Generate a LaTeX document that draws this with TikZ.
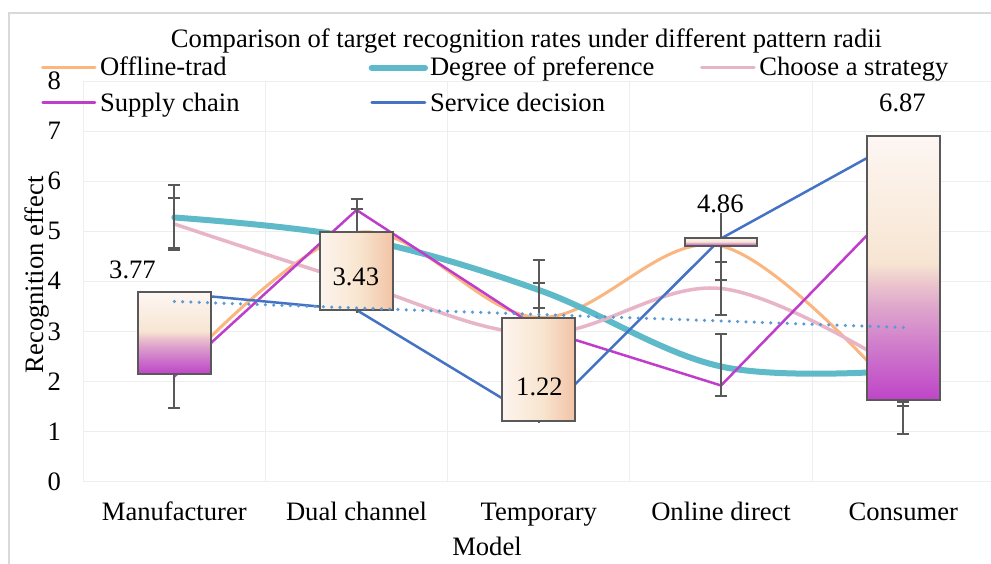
\documentclass[tikz,border=0pt]{standalone}
\usepackage{fontspec}
\setmainfont{Liberation Serif}
\definecolor{cOrange}{HTML}{FBB57F}
\definecolor{cTeal}{HTML}{5EBAC9}
\definecolor{cPink}{HTML}{E8B4C8}
\definecolor{cMag}{HTML}{BE3ECB}
\definecolor{cBlue}{HTML}{4472C4}
\definecolor{cTrend}{HTML}{5B9BD5}
\definecolor{cGray}{HTML}{595959}
\definecolor{cGrid}{HTML}{EEEEEE}
\definecolor{cFrame}{HTML}{D9D9D9}
\definecolor{ubA}{HTML}{BF45C8}
\definecolor{ubB}{HTML}{CB6FCB}
\definecolor{ubC}{HTML}{DDA2CC}
\definecolor{ubD}{HTML}{EBC3CD}
\definecolor{ubE}{HTML}{F7E5D2}
\definecolor{ubF}{HTML}{FAEDE1}
\definecolor{ubG}{HTML}{FDF6F3}
\definecolor{dbA}{HTML}{FDF4EE}
\definecolor{dbB}{HTML}{F8E5CF}
\definecolor{dbC}{HTML}{F2C3A6}
\pgfdeclareverticalshading{upbar}{100bp}{color(0bp)=(ubA); color(25bp)=(ubA); color(33bp)=(ubB); color(42bp)=(ubC); color(47bp)=(ubD); color(51bp)=(ubE); color(62bp)=(ubF); color(75bp)=(ubG); color(100bp)=(ubG)}
\pgfdeclarehorizontalshading{downbar}{100bp}{color(0bp)=(dbA); color(25bp)=(dbA); color(52bp)=(dbB); color(75bp)=(dbC); color(100bp)=(dbC)}
\begin{document}
\begin{tikzpicture}[x=1pt,y=-1pt,
  every node/.style={inner sep=0pt, outer sep=0pt, font=\fontsize{26.6pt}{32pt}\selectfont, text=black},
  gridline/.style={draw=cGrid, line width=1pt},
  sOrange/.style={draw=cOrange, line width=3pt, line cap=round},
  sTeal/.style={draw=cTeal, line width=6pt, line cap=round},
  sPink/.style={draw=cPink, line width=3.5pt, line cap=round},
  sMag/.style={draw=cMag, line width=2.5pt, line cap=round, line join=round},
  sBlue/.style={draw=cBlue, line width=2.5pt, line cap=round, line join=round},
  trenddot/.style={fill=cTrend},
  ebar/.style={draw=cGray, line width=2pt},
  upbox/.style={shading=upbar, draw=cGray, line width=2pt},
  downbox/.style={shading=downbar, draw=cGray, line width=2pt}]
\useasboundingbox (0,0) rectangle (991,564);
\fill[white] (0,0) rectangle (991,564);
\draw[cFrame, line width=1.5pt] (9,564) -- (9,13) -- (991,13);

% plot area in data coordinates
\begin{scope}[shift={(174.3,481.5)}, x=182.25pt, y=50pt]
  % grid
  \foreach \v in {0,...,8} \draw[gridline] (-0.5,\v) -- (4.49,\v);
  \foreach \c in {-0.5,0.5,1.5,2.5,3.5} \draw[gridline] (\c,0) -- (\c,8);
  % series
  \draw[sOrange] plot[smooth, tension=0.6] coordinates {(0,2.15) (1,4.98) (2,3.28) (3,4.71) (4,1.63)};
  \draw[sTeal] plot[smooth, tension=0.6] coordinates {(0,5.28) (1,4.87) (2,3.83) (3,2.3) (4,2.22)};
  \draw[sPink] plot[smooth, tension=0.6] coordinates {(0,5.15) (1,3.97) (2,2.95) (3,3.86) (4,2.2)};
  \draw[sMag] (0,2.1) -- (1,5.43) -- (2,3.06) -- (3,1.92) -- (4,5.67);
  \draw[sBlue] (0,3.77) -- (1,3.43) -- (2,1.22) -- (3,4.86) -- (4,6.87);
  % error bars
  \foreach \i/\a/\b in {0/5.92/4.63, 0/2.8/1.48, 0/3.77/3.81, 1/5.64/4.9, 1/3.43/3.38, 2/4.43/3.2, 2/1.22/1.18, 3/5.37/4.8, 3/4.75/3.33, 3/2.95/1.72, 4/6.93/6.8, 4/1.7/0.95}
    \draw[ebar] (\i,\a) -- (\i,\b);
  \foreach \i/\a in {0/5.92, 0/5.66, 0/4.67, 0/4.63, 0/1.48, 1/5.64, 1/5.45, 2/4.43, 2/3.96, 2/3.48, 3/4.38, 3/4.03, 3/3.33, 3/2.95, 3/1.72, 4/1.6, 4/1.52, 4/0.95}
    \draw[ebar] (\i-0.033,\a) -- (\i+0.033,\a);
  % up-down bars
  \path[upbox] (-0.1994,2.15) rectangle (0.1994,3.784);
  \path[downbox] (0.8006,3.43) rectangle (1.1994,4.98);
  \path[downbox] (1.8006,1.22) rectangle (2.1994,3.28);
  \path[upbox] (2.8006,4.71) rectangle (3.1994,4.875);
  \path[upbox] (3.8006,1.63) rectangle (4.1994,6.9);
  % dotted linear trendline
  \foreach \k in {0,...,88}
    \fill[trenddot] ({\k/22},{3.6-0.52*\k/88}) circle (1.75pt);
\end{scope}

% data labels
\node[anchor=base] (dl0) at (132.5,279) {3.77};
\node[anchor=base] (dl1) at (355.8,285) {3.43};
\node[anchor=base] (dl2) at (539.5,395.7) {1.22};
\node[anchor=base] (dl3) at (720.3,212.7) {4.86};
\node[anchor=base] (dl4) at (902.5,111.7) {6.87};

% axes labels
\foreach \v in {0,...,8}
  \node[anchor=base east] (yt\v) at (61,{481.5-50*\v+8.5}) {\v};
\foreach \lab [count=\i from 0] in {Manufacturer,Dual channel,Temporary,Online direct,Consumer}
  \node[anchor=base] (xl\i) at ({174.3+182.25*\i},520.7) {\lab};
\node[anchor=base] (xtitle) at (487,555) {Model};
\node[anchor=base, rotate=90] (ytitle) at (43.3,275) {Recognition effect};
\node[anchor=base] (title) at (526.5,48) {Comparison of target recognition rates under different pattern radii};

% legend
\draw[sOrange] (42.7,67.7) -- (95,67.7);
\node[anchor=base west] (lg1) at (100,76) {Offline-trad};
\draw[sTeal] (371.7,67.7) -- (425,67.7);
\node[anchor=base west] (lg2) at (430,76) {Degree of preference};
\draw[sPink] (701.7,67.7) -- (754,67.7);
\node[anchor=base west] (lg3) at (759.3,76) {Choose a strategy};
\draw[sMag] (42.7,102.7) -- (95,102.7);
\node[anchor=base west] (lg4) at (100,112) {Supply chain};
\draw[sBlue] (371.7,102.7) -- (425,102.7);
\node[anchor=base west] (lg5) at (430,112) {Service decision};
\end{tikzpicture}
\end{document}
